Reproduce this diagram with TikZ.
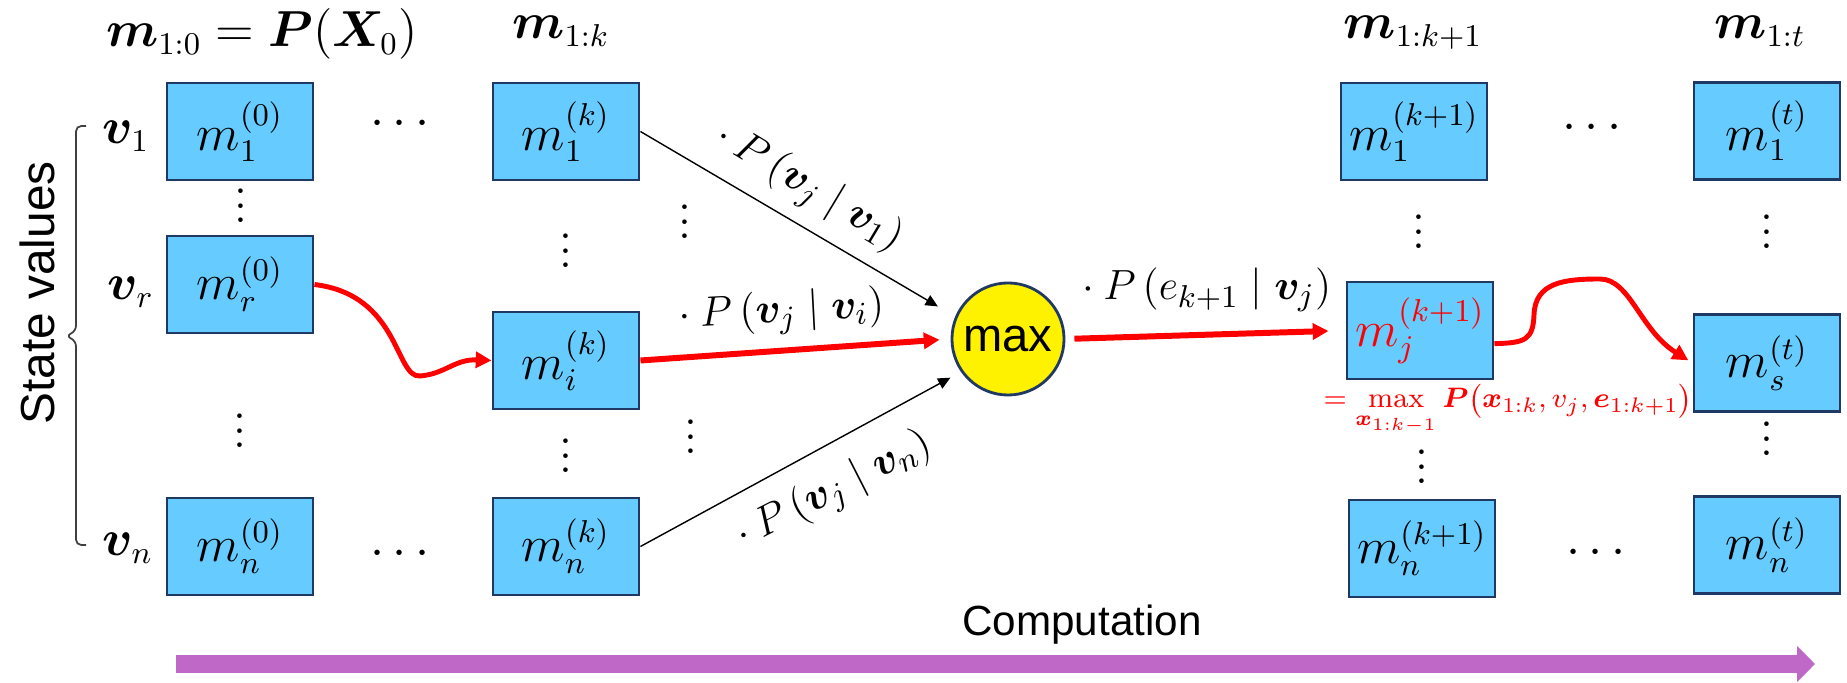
\documentclass[tikz,border=0pt]{standalone}
\usepackage{amsmath,amssymb,bm}
\usepackage{fontspec}
\newfontfamily\arialfont{Liberation Sans}
\usetikzlibrary{arrows.meta,positioning,calc}
\definecolor{CellBlue}{HTML}{66CCFF}
\definecolor{CellEdge}{HTML}{1F3864}
\definecolor{FlowRed}{HTML}{FF0000}
\definecolor{TimePurple}{HTML}{BF68C8}
\newcommand{\vdotz}{\vbox{\baselineskip=4.2pt\lineskiplimit=0pt\hbox{.}\hbox{.}\hbox{.}}}

\begin{document}
\begin{tikzpicture}[x=0.01cm,y=-0.01cm,
  cell/.style={draw=CellEdge,fill=CellBlue,line width=0.8pt,minimum width=1.46cm,
    minimum height=0.97cm,inner sep=0pt,font=\fontsize{13.5}{16}\selectfont},
  ttl/.style={anchor=base,inner sep=0pt,font=\fontsize{13.5}{16}\selectfont},
  vlbl/.style={inner sep=0pt,font=\fontsize{13.5}{16}\selectfont},
  dts/.style={anchor=base,inner sep=0pt,font=\fontsize{13.5}{16}\selectfont},
  wt/.style={inner sep=0pt,font=\fontsize{12.5}{15}\selectfont},
  thinarrow/.style={line width=0.4pt,-{Triangle[length=3.5pt,width=3.2pt]}},
  redarrow/.style={FlowRed,line width=1.7pt,-{Triangle[length=4.5pt,width=4.5pt]}},
  redcurve/.style={FlowRed,line width=1.4pt,-{Triangle[length=4.5pt,width=4.5pt]}}]
  \useasboundingbox (0,0) rectangle (1847,683);

  % column titles
  \node (t0) [ttl] at (262,47) {$\bm{m}_{1:0}=\bm{P}(\bm{X}_0)$};
  \node (tk) [ttl] at (561,39) {$\bm{m}_{1:k}$};
  \node (tk1) [ttl] at (1413,39) {$\bm{m}_{1:k+1}$};
  \node (tt) [ttl] at (1760,39) {$\bm{m}_{1:t}$};

  % state values
  \node (svals) [rotate=90,inner sep=0pt,font=\arialfont\fontsize{13.6}{16}\selectfont] at (37,293) {State values};
  \coordinate (brtop) at (86,126);
  \coordinate (brbot) at (86,545);
  \draw[line width=0.5pt,black!75,rounded corners=1.5pt]
    (brtop) -- (76,126) -- (76,331) -- (66,336) -- (76,341) -- (76,545) -- (brbot);
  \node (v1) [vlbl] at (126,136) {$\bm{v}_1$};
  \node (vr) [vlbl] at (131,292) {$\bm{v}_r$};
  \node (vn) [vlbl] at (128,548) {$\bm{v}_n$};

  % cells
  \node (m10) [cell] at (240,131.5) {$m_1^{(0)}$};
  \node (mr0) [cell] at (240,284.5) {$m_r^{(0)}$};
  \node (mn0) [cell] at (240,546.5) {$m_n^{(0)}$};
  \node (m1k) [cell] at (566,131.5) {$m_1^{(k)}$};
  \node (mik) [cell] at (566,360.5) {$m_i^{(k)}$};
  \node (mnk) [cell] at (566,546.5) {$m_n^{(k)}$};
  \node (m1k1) [cell] at (1414,131.5) {$m_1^{(k+1)}$};
  \node (mjk1) [cell,text=FlowRed] at (1420,330.5) {$m_j^{(k+1)}$};
  \node (mnk1) [cell] at (1422,548.5) {$m_n^{(k+1)}$};
  \node (m1t) [cell] at (1767,131) {$m_1^{(t)}$};
  \node (mst) [cell] at (1767,363) {$m_s^{(t)}$};
  \node (mnt) [cell] at (1767,545) {$m_n^{(t)}$};

  % dots
  \node (hd1) [dts] at (404,136) {$\cdots$};
  \node (hd2) [dts] at (404,566) {$\cdots$};
  \node (hd3) [dts] at (1596,140) {$\cdots$};
  \node (hd4) [dts] at (1600,565) {$\cdots$};
  \node (vd1) [dts] at (241,223) {\vdotz};
  \node (vd2) [dts] at (240,448) {\vdotz};
  \node (vd3) [dts] at (566,268) {\vdotz};
  \node (vd4) [dts] at (566,473) {\vdotz};
  \node (vd5) [dts] at (685,239) {\vdotz};
  \node (vd6) [dts] at (691,454) {\vdotz};
  \node (vd7) [dts] at (1419,249) {\vdotz};
  \node (vd8) [dts] at (1422,484) {\vdotz};
  \node (vd9) [dts] at (1767,249) {\vdotz};
  \node (vd10) [dts] at (1767,456) {\vdotz};

  % max node
  \node (mx) [circle,draw=CellEdge,fill=yellow,line width=0.8pt,minimum size=1.12cm,inner sep=0pt,
    font=\arialfont\fontsize{13.4}{16}\selectfont] at (1008,339) {max};

  % transitions
  \draw[thinarrow,shorten >=0.2cm] (m1k.east) -- (mx.157);
  \draw[redarrow,shorten >=0.11cm] (mik.east) -- (mx.west);
  \draw[thinarrow,shorten >=0.12cm] (mnk.east) -- (mx.215);
  \draw[redarrow,shorten <=0.09cm,shorten >=0.17cm] (mx.east) -- (mjk1.west);
  \node (w1) [wt,rotate=-31] at (805,186) {${}\cdot P\left(\bm{v}_j \mid \bm{v}_1\right)$};
  \node (wi) [wt,rotate=3] at (777,313) {${}\cdot P\left(\bm{v}_j \mid \bm{v}_i\right)$};
  \node (wn) [wt,rotate=27] at (830,493) {${}\cdot P\left(\bm{v}_j \mid \bm{v}_n\right)$};
  \node (we) [wt] at (1202,290) {${}\cdot P\left(e_{k+1} \mid \bm{v}_j\right)$};

  % best paths
  \draw[redcurve] (mr0.east) .. controls (400,295) and (395,378) .. (420,376)
    .. controls (445,374) and (455,359) .. (mik.west);
  \draw[redcurve,shorten >=0.05cm] (mjk1.-10) .. controls (1525,343) and (1533,340) .. (1534,315)
    .. controls (1535,282) and (1565,279) .. (1600,279)
    .. controls (1630,279) and (1640,330) .. (mst.west);
  \node (jeq) [anchor=base west,inner sep=0pt,text=FlowRed,font=\fontsize{8.1}{10}\selectfont] at (1323,408)
    {$\displaystyle = \max\limits_{\bm{x}_{1:k-1}} \bm{P}\bigl(\bm{x}_{1:k}, v_j, \bm{e}_{1:k+1}\bigr)$};

  % time axis
  \coordinate (tstart) at (176,664);
  \coordinate (tend) at (1815,664);
  \draw[TimePurple,line width=5.1pt,-{Triangle[length=5.1pt,width=10pt]}] (tstart) -- (tend);
  \node (comp) [inner sep=0pt,font=\arialfont\fontsize{12}{14}\selectfont] at (1082,625) {Computation};
\end{tikzpicture}
\end{document}
